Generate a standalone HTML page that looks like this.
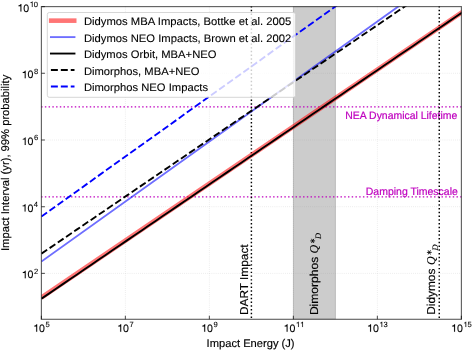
<!DOCTYPE html><html><head><meta charset="utf-8"><style>html,body{margin:0;padding:0;background:#fff;overflow:hidden}svg{display:block;will-change:transform}</style></head><body><svg width="473" height="350" viewBox="0 0 473 350" font-family="Liberation Sans, sans-serif" text-rendering="geometricPrecision">
<rect width="473" height="350" fill="#fff"/>
<defs><clipPath id="ax"><rect x="41.40" y="6.60" width="420.00" height="312.70"/></clipPath></defs>
<g stroke="#b0b0b0" stroke-opacity="0.35" stroke-width="0.8" stroke-dasharray="0.8 1.3"><line x1="125.40" y1="6.6" x2="125.40" y2="319.3"/><line x1="209.40" y1="6.6" x2="209.40" y2="319.3"/><line x1="293.40" y1="6.6" x2="293.40" y2="319.3"/><line x1="377.40" y1="6.6" x2="377.40" y2="319.3"/><line x1="41.4" y1="273.40" x2="461.4" y2="273.40"/><line x1="41.4" y1="206.70" x2="461.4" y2="206.70"/><line x1="41.4" y1="140.00" x2="461.4" y2="140.00"/><line x1="41.4" y1="73.30" x2="461.4" y2="73.30"/></g>
<g clip-path="url(#ax)">
<rect x="293.40" y="6.6" width="42.00" height="312.7" fill="#808080" fill-opacity="0.4" stroke="#808080" stroke-opacity="0.4" stroke-width="1"/>
<line x1="41.12" y1="106.85" x2="462.4" y2="106.85" stroke="#bf00bf" stroke-width="1.45" stroke-dasharray="1.45 2.292"/>
<line x1="41.12" y1="196.86" x2="462.4" y2="196.86" stroke="#bf00bf" stroke-width="1.45" stroke-dasharray="1.45 2.292"/>
<g fill="#bf00bf" font-size="10.6" stroke="#bf00bf" stroke-width="0.2">
<text x="457.3" y="119.0" text-anchor="end" textLength="112" lengthAdjust="spacingAndGlyphs">NEA Dynamical Lifetime</text>
<text x="457.8" y="194.7" text-anchor="end" textLength="92" lengthAdjust="spacingAndGlyphs">Damping Timescale</text>
</g>
<line x1="251.40" y1="318.00" x2="251.40" y2="5.6" stroke="#000" stroke-width="1.45" stroke-dasharray="1.45 2.292"/>
<line x1="439.25" y1="318.00" x2="439.25" y2="5.6" stroke="#000" stroke-width="1.45" stroke-dasharray="1.45 2.292"/>
<polyline points="41.40,297.57 255.60,152.24 469.80,6.92" fill="none" stroke="#ff0000" stroke-opacity="0.54" stroke-width="4.6"/>
<polyline points="41.40,261.56 255.60,108.48 469.80,-44.59" fill="none" stroke="#0000ff" stroke-opacity="0.57" stroke-width="1.87"/>
<polyline points="41.40,298.72 48.54,293.86 55.68,289.00 62.82,284.13 69.96,279.27 77.10,274.41 84.24,269.55 91.38,264.68 98.52,259.82 105.66,254.96 112.80,250.10 119.94,245.24 127.08,240.38 134.22,235.52 141.36,230.66 148.50,225.80 155.64,220.94 162.78,216.08 169.92,211.22 177.06,206.36 184.20,201.51 191.34,196.65 198.48,191.79 205.62,186.93 212.76,182.07 219.90,177.22 227.04,172.36 234.18,167.50 241.32,162.65 248.46,157.79 255.60,152.93 262.74,148.08 269.88,143.22 277.02,138.37 284.16,133.51 291.30,128.66 298.44,123.80 305.58,118.95 312.72,114.09 319.86,109.24 327.00,104.38 334.14,99.53 341.28,94.68 348.42,89.82 355.56,84.97 362.70,80.11 369.84,75.26 376.98,70.41 384.12,65.56 391.26,60.70 398.40,55.85 405.54,51.00 412.68,46.15 419.82,41.29 426.96,36.44 434.10,31.59 441.24,26.74 448.38,21.89 455.52,17.03 462.66,12.18 469.80,7.33" fill="none" stroke="#000" stroke-width="1.87"/>
<polyline points="41.40,253.70 48.54,248.84 55.68,243.97 62.82,239.11 69.96,234.25 77.10,229.39 84.24,224.52 91.38,219.66 98.52,214.80 105.66,209.94 112.80,205.08 119.94,200.22 127.08,195.36 134.22,190.50 141.36,185.64 148.50,180.78 155.64,175.92 162.78,171.06 169.92,166.20 177.06,161.34 184.20,156.48 191.34,151.62 198.48,146.77 205.62,141.91 212.76,137.05 219.90,132.19 227.04,127.34 234.18,122.48 241.32,117.62 248.46,112.77 255.60,107.91 262.74,103.06 269.88,98.20 277.02,93.34 284.16,88.49 291.30,83.63 298.44,78.78 305.58,73.92 312.72,69.07 319.86,64.22 327.00,59.36 334.14,54.51 341.28,49.65 348.42,44.80 355.56,39.95 362.70,35.09 369.84,30.24 376.98,25.39 384.12,20.53 391.26,15.68 398.40,10.83 405.54,5.98 412.68,1.12 419.82,-3.73 426.96,-8.58 434.10,-13.43 441.24,-18.29 448.38,-23.14 455.52,-27.99 462.66,-32.84 469.80,-37.69" fill="none" stroke="#000" stroke-width="1.87" stroke-dasharray="6.95 2.98"/>
<polyline points="41.40,216.54 255.60,63.46 469.80,-89.61" fill="none" stroke="#0000ff" stroke-width="1.87" stroke-dasharray="6.95 2.98"/>
</g>
<text transform="translate(247.9,315.0) rotate(-90)" x="0" y="0" font-size="11.5" stroke="#000" stroke-width="0.15" textLength="70.6" lengthAdjust="spacingAndGlyphs">DART Impact</text>
<text transform="translate(318.3,315.09999999999997) rotate(-90)" x="0" y="0" font-size="11.5" stroke="#000" stroke-width="0.15" textLength="58.4" lengthAdjust="spacingAndGlyphs">Dimorphos</text>
<text transform="translate(434.9,314.8) rotate(-90)" x="0" y="0" font-size="11.5" stroke="#000" stroke-width="0.15" textLength="46.2" lengthAdjust="spacingAndGlyphs">Didymos</text>
<g transform="translate(318.1,256.5) rotate(-90)" font-family="Liberation Serif, serif"><text x="2.9" y="0.2" font-style="italic" font-size="12" stroke="#000" stroke-width="0.12">Q</text><path d="M15.6,-7.8 L15.6,-3.0 M13.52,-6.6 L17.68,-4.2 M13.52,-4.2 L17.68,-6.6" stroke="#000" stroke-width="0.85" fill="none"/><text x="17.5" y="3.1" font-style="italic" font-size="8.4" stroke="#000" stroke-width="0.1">D</text></g>
<g transform="translate(434.7,268.0) rotate(-90)" font-family="Liberation Serif, serif"><text x="2.9" y="0.2" font-style="italic" font-size="12" stroke="#000" stroke-width="0.12">Q</text><path d="M15.6,-7.8 L15.6,-3.0 M13.52,-6.6 L17.68,-4.2 M13.52,-4.2 L17.68,-6.6" stroke="#000" stroke-width="0.85" fill="none"/><text x="17.5" y="3.1" font-style="italic" font-size="8.4" stroke="#000" stroke-width="0.1">D</text></g>
<rect x="47.3" y="12.5" width="248.3" height="84.8" rx="2" ry="2" fill="#fff" fill-opacity="0.8" stroke="#cccccc" stroke-opacity="0.8" stroke-width="1"/>
<line x1="48.9" y1="20.65" x2="76.5" y2="20.65" stroke="#ff0000" stroke-opacity="0.54" stroke-width="4.6" stroke-linecap="butt"/>
<text x="83.9" y="25.00" font-size="10.9" fill="#000" stroke="#000" stroke-width="0.1" textLength="207.4" lengthAdjust="spacingAndGlyphs">Didymos MBA Impacts, Bottke et al. 2005</text>
<line x1="50.9" y1="37.10" x2="74.5" y2="37.10" stroke="#0000ff" stroke-opacity="0.57" stroke-width="1.87" stroke-linecap="square"/>
<text x="83.9" y="41.50" font-size="10.9" fill="#000" stroke="#000" stroke-width="0.1" textLength="207.4" lengthAdjust="spacingAndGlyphs">Didymos NEO Impacts, Brown et al. 2002</text>
<line x1="50.9" y1="53.55" x2="74.5" y2="53.55" stroke="#000" stroke-width="1.87" stroke-linecap="square"/>
<text x="83.9" y="58.00" font-size="10.9" fill="#000" stroke="#000" stroke-width="0.1" textLength="132.6" lengthAdjust="spacingAndGlyphs">Didymos Orbit, MBA+NEO</text>
<line x1="50.9" y1="70.00" x2="74.5" y2="70.00" stroke="#000" stroke-width="1.87" stroke-dasharray="6.95 2.98"/>
<text x="83.9" y="74.50" font-size="10.9" fill="#000" stroke="#000" stroke-width="0.1" textLength="115.6" lengthAdjust="spacingAndGlyphs">Dimorphos, MBA+NEO</text>
<line x1="50.9" y1="86.45" x2="74.5" y2="86.45" stroke="#0000ff" stroke-width="1.87" stroke-dasharray="6.95 2.98"/>
<text x="83.9" y="91.00" font-size="10.9" fill="#000" stroke="#000" stroke-width="0.1" textLength="124.1" lengthAdjust="spacingAndGlyphs">Dimorphos NEO Impacts</text>
<rect x="41.4" y="6.6" width="420.0" height="312.7" fill="none" stroke="#000" stroke-opacity="0.62" stroke-width="1.15"/>
<g stroke="#000" stroke-opacity="0.62" stroke-width="1.15"><line x1="41.40" y1="319.3" x2="41.40" y2="315.8"/><line x1="125.40" y1="319.3" x2="125.40" y2="315.8"/><line x1="209.40" y1="319.3" x2="209.40" y2="315.8"/><line x1="293.40" y1="319.3" x2="293.40" y2="315.8"/><line x1="377.40" y1="319.3" x2="377.40" y2="315.8"/><line x1="461.40" y1="319.3" x2="461.40" y2="315.8"/><line x1="41.4" y1="273.40" x2="44.9" y2="273.40"/><line x1="41.4" y1="206.70" x2="44.9" y2="206.70"/><line x1="41.4" y1="140.00" x2="44.9" y2="140.00"/><line x1="41.4" y1="73.30" x2="44.9" y2="73.30"/><line x1="41.4" y1="6.60" x2="44.9" y2="6.60"/></g>
<g fill="#000" stroke="#000" stroke-width="0.1"><path d="M37.17,331.70 L37.17,324.25 L36.50,324.25 C36.22,325.18 35.41,325.64 34.27,325.70 L34.27,326.40 L36.23,326.40 L36.23,331.70Z"/><text x="39.02" y="331.70" font-size="10.6">0</text><text x="45.42" y="327.10" font-size="7.6">5</text><path d="M121.20,331.70 L121.20,324.25 L120.53,324.25 C120.25,325.18 119.44,325.64 118.30,325.70 L118.30,326.40 L120.26,326.40 L120.26,331.70Z"/><text x="123.05" y="331.70" font-size="10.6">0</text><text x="129.45" y="327.10" font-size="7.6">7</text><path d="M205.19,331.70 L205.19,324.25 L204.52,324.25 C204.24,325.18 203.43,325.64 202.29,325.70 L202.29,326.40 L204.25,326.40 L204.25,331.70Z"/><text x="207.04" y="331.70" font-size="10.6">0</text><text x="213.44" y="327.10" font-size="7.6">9</text><path d="M287.56,331.70 L287.56,324.25 L286.89,324.25 C286.62,325.18 285.80,325.64 284.67,325.70 L284.67,326.40 L286.63,326.40 L286.63,331.70Z"/><text x="289.42" y="331.70" font-size="10.6">0</text><path d="M298.71,327.10 L298.71,321.76 L298.23,321.76 C298.03,322.43 297.45,322.75 296.63,322.80 L296.63,323.30 L298.04,323.30 L298.04,327.10Z"/><path d="M302.93,327.10 L302.93,321.76 L302.46,321.76 C302.26,322.43 301.67,322.75 300.86,322.80 L300.86,323.30 L302.27,323.30 L302.27,327.10Z"/><path d="M371.06,331.70 L371.06,324.25 L370.39,324.25 C370.12,325.18 369.30,325.64 368.17,325.70 L368.17,326.40 L370.13,326.40 L370.13,331.70Z"/><text x="372.92" y="331.70" font-size="10.6">0</text><path d="M382.21,327.10 L382.21,321.76 L381.73,321.76 C381.53,322.43 380.95,322.75 380.13,322.80 L380.13,323.30 L381.54,323.30 L381.54,327.10Z"/><text x="383.54" y="327.10" font-size="7.6">3</text><path d="M455.05,331.70 L455.05,324.25 L454.39,324.25 C454.11,325.18 453.29,325.64 452.16,325.70 L452.16,326.40 L454.12,326.40 L454.12,331.70Z"/><text x="456.91" y="331.70" font-size="10.6">0</text><path d="M466.20,327.10 L466.20,321.76 L465.72,321.76 C465.53,322.43 464.94,322.75 464.13,322.80 L464.13,323.30 L465.53,323.30 L465.53,327.10Z"/><text x="467.53" y="327.10" font-size="7.6">5</text><path d="M25.70,278.30 L25.70,270.85 L25.03,270.85 C24.76,271.78 23.94,272.24 22.81,272.30 L22.81,273.00 L24.77,273.00 L24.77,278.30Z"/><text x="27.56" y="278.30" font-size="10.6">0</text><text x="33.95" y="273.70" font-size="7.6">2</text><path d="M25.54,211.60 L25.54,204.15 L24.87,204.15 C24.60,205.08 23.78,205.54 22.65,205.60 L22.65,206.30 L24.61,206.30 L24.61,211.60Z"/><text x="27.40" y="211.60" font-size="10.6">0</text><text x="33.79" y="207.00" font-size="7.6">4</text><path d="M25.66,144.90 L25.66,137.45 L24.99,137.45 C24.71,138.38 23.90,138.84 22.76,138.90 L22.76,139.60 L24.72,139.60 L24.72,144.90Z"/><text x="27.51" y="144.90" font-size="10.6">0</text><text x="33.91" y="140.30" font-size="7.6">6</text><path d="M25.65,78.20 L25.65,70.75 L24.98,70.75 C24.70,71.68 23.89,72.14 22.75,72.20 L22.75,72.90 L24.72,72.90 L24.72,78.20Z"/><text x="27.51" y="78.20" font-size="10.6">0</text><text x="33.90" y="73.60" font-size="7.6">8</text><path d="M21.39,11.50 L21.39,4.05 L20.72,4.05 C20.45,4.98 19.63,5.44 18.50,5.50 L18.50,6.20 L20.46,6.20 L20.46,11.50Z"/><text x="23.25" y="11.50" font-size="10.6">0</text><path d="M32.54,6.90 L32.54,1.56 L32.06,1.56 C31.86,2.23 31.28,2.55 30.46,2.60 L30.46,3.10 L31.87,3.10 L31.87,6.90Z"/><text x="33.87" y="6.90" font-size="7.6">0</text></g>
<text x="250.6" y="346.7" font-size="11.2" stroke="#000" stroke-width="0.15" text-anchor="middle" textLength="88" lengthAdjust="spacingAndGlyphs">Impact Energy (J)</text>
<text transform="translate(9.4,162.9) rotate(-90)" font-size="11.2" stroke="#000" stroke-width="0.15" text-anchor="middle" textLength="176.3" lengthAdjust="spacingAndGlyphs">Impact Interval (yr), 99% probability</text>
</svg></body></html>
